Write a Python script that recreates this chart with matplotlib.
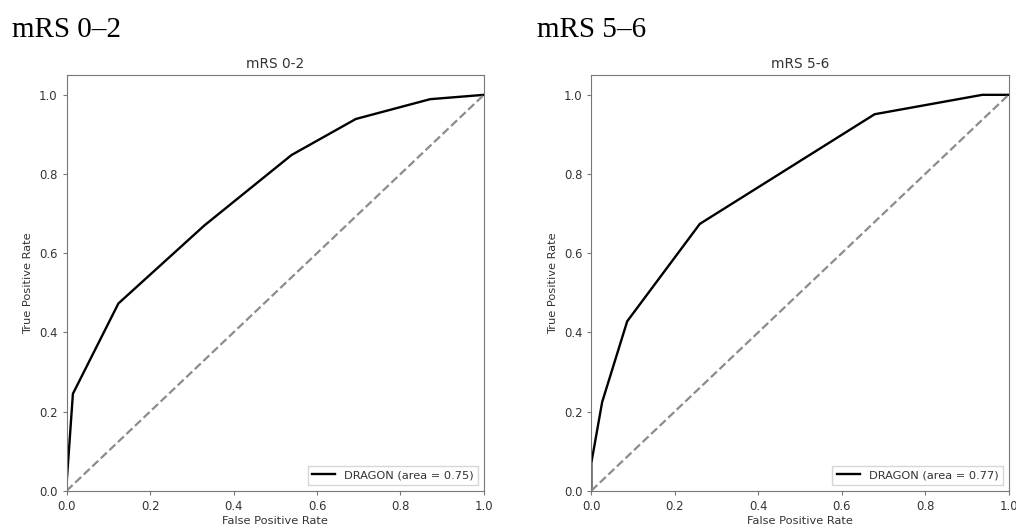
import matplotlib
matplotlib.use("Agg")
import matplotlib.pyplot as plt

# ROC curves
fpr_02 = [0.0, 0.0, 0.015, 0.124, 0.33, 0.539, 0.693, 0.871, 1.0]
tpr_02 = [0.0, 0.02, 0.245, 0.473, 0.67, 0.848, 0.939, 0.989, 1.0]
auc_02 = 0.75

fpr_56 = [0.0, 0.0, 0.026, 0.086, 0.26, 0.679, 0.937, 1.0]
tpr_56 = [0.0, 0.07, 0.224, 0.428, 0.674, 0.951, 1.0, 1.0]
auc_56 = 0.77

panels = [("mRS 0-2", "mRS 0\u20132", fpr_02, tpr_02, auc_02),
          ("mRS 5-6", "mRS 5\u20136", fpr_56, tpr_56, auc_56)]

txt = "#333333"
plt.rcParams["font.family"] = ["DejaVu Sans"]
plt.rcParams["font.size"] = 8.2

fig = plt.figure(figsize=(10.16, 5.24), dpi=100)

lefts = [0.0656, 0.582]
heads_x = [0.012, 0.529]

for i, (title, head, fpr, tpr, auc) in enumerate(panels):
    ax = fig.add_axes([lefts[i], 0.0635, 0.4107, 0.7933])
    ax.plot(fpr, tpr, color="black", lw=1.7, label="DRAGON (area = %0.2f)" % auc)
    ax.plot([0, 1], [0, 1], color="#8c8c8c", lw=1.6, linestyle="--")
    ax.set_xlim(0.0, 1.0)
    ax.set_ylim(0.0, 1.05)
    ax.set_xticks([0.0, 0.2, 0.4, 0.6, 0.8, 1.0])
    ax.set_yticks([0.0, 0.2, 0.4, 0.6, 0.8, 1.0])
    ax.set_xlabel("False Positive Rate", color=txt, fontsize=8.2, labelpad=2)
    ax.set_ylabel("True Positive Rate", color=txt, fontsize=8.2)
    ax.set_title(title, color=txt, fontsize=9.8, pad=5)
    ax.tick_params(colors=txt, labelsize=8.4, length=3, color="#777777")
    for s in ax.spines.values():
        s.set_color("#777777")
    leg = ax.legend(loc="lower right", fontsize=8.2, fancybox=False)
    leg.get_frame().set_edgecolor("#cccccc")
    for t in leg.get_texts():
        t.set_color(txt)
    fig.text(heads_x[i], 1 - 36.7 / 524, head, family=["Liberation Serif"],
             fontsize=21, color="black", ha="left", va="baseline")

fig.savefig("out.png", dpi=100)
